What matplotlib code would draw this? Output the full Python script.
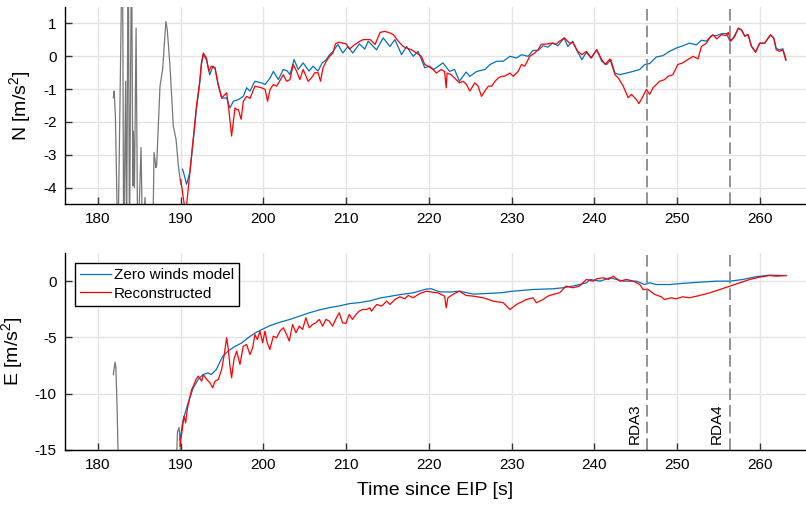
import matplotlib
matplotlib.use('Agg')
import matplotlib.pyplot as plt

plt.rcParams['font.family'] = ['Liberation Sans', 'DejaVu Sans']
plt.rcParams['mathtext.default'] = 'regular'
plt.rcParams['axes.unicode_minus'] = False

# event markers
RDA_TIMES = [246.4, 256.4]
RDA_LABELS = ['RDA3', 'RDA4']

# ---- North component ----
t_n_gray = [181.85, 181.95, 182.1, 182.4, 182.95, 183.1, 183.34, 183.45, 183.65, 183.8,
            184.05, 184.2, 184.27, 184.4, 184.6, 184.8, 185.2, 185.4, 185.68, 186.0,
            186.6, 186.77, 187.0, 187.09, 187.49, 187.81, 188.2, 188.37, 188.7, 189.1,
            189.43, 189.7, 190.0]
n_gray = [-1.26, -1.06, -1.83, -6, 4, -6, -0.76, -6, 4, -6,
          4, -3.95, -2.28, -4.0, 0.86, -6, -2.78, -6, -4.3, -6,
          -6, -2.93, -3.39, -3.3, -0.91, -0.40, 1.06, 0.81, -0.30, -2.13,
          -2.53, -3.3, -3.9]

t_n_model = [190.22, 190.45, 190.7, 191.1, 191.5, 191.9, 192.3, 192.5, 192.73, 193.1,
             193.5, 193.9, 194.14, 194.5, 194.95, 195.55, 195.95, 196.36, 196.96, 197.57,
             197.97, 198.37, 198.97, 199.77, 200.2, 200.8, 201.2, 201.8, 202.4, 202.9,
             203.2, 203.7, 204.2, 204.8, 205.5, 206.0, 206.6, 207.1, 207.6, 208.0,
             208.4, 209.0, 209.6, 210.2, 210.8, 211.6, 212.25, 212.67, 213.67, 214.48,
             215.29, 215.89, 216.7, 217.3, 218.1, 218.7, 219.5, 220.1, 220.6, 221.7,
             222.5, 223.1, 223.7, 224.5, 224.95, 225.8, 226.8, 227.4, 228.2, 229.0,
             229.8, 230.6, 231.2, 232.0, 232.6, 233.2, 233.8, 234.4, 235.0, 235.6,
             236.35, 236.8, 237.4, 237.95, 238.5, 239.05, 239.6, 240.3, 240.9, 241.5,
             242.0, 242.5, 243.1, 243.9, 244.7, 245.5, 246.1, 246.7, 247.5, 248.3,
             249.1, 249.9, 250.7, 251.5, 252.35, 252.95, 253.55, 254.15, 254.8, 255.4,
             256.0, 256.4, 256.8, 257.4, 257.8, 258.2, 258.6, 259.0, 259.5, 260.0,
             260.6, 261.3, 261.7, 262.0, 262.4, 262.8, 263.2]
n_model = [-3.44, -3.64, -3.9, -3.54, -2.6, -1.6, -0.8, -0.25, 0.05, -0.1,
           -0.56, -0.30, -0.35, -0.81, -1.27, -1.27, -1.57, -1.37, -1.32, -1.22,
           -0.96, -1.06, -0.76, -0.81, -0.86, -0.66, -0.46, -0.71, -0.40, -0.45,
           -0.56, -0.10, -0.40, -0.20, -0.45, -0.30, -0.45, -0.20, -0.10, 0.05,
           0.15, 0.36, 0.10, 0.30, 0.10, 0.38, 0.22, 0.46, 0.20, 0.56,
           0.30, 0.51, 0.05, 0.30, 0.0, 0.15, -0.35, -0.30, -0.40, -0.20,
           -0.46, -0.40, -0.76, -0.48, -0.61, -0.46, -0.40, -0.25, -0.15, -0.15,
           0.0, -0.05, 0.05, 0.0, 0.18, 0.18, 0.32, 0.28, 0.41, 0.32,
           0.56, 0.30, 0.46, 0.15, -0.10, 0.12, -0.05, 0.20, -0.15, -0.25,
           -0.10, -0.51, -0.56, -0.51, -0.46, -0.40, -0.25, -0.22, -0.02, 0.02,
           0.15, 0.25, 0.32, 0.40, 0.35, 0.49, 0.46, 0.63, 0.63, 0.69,
           0.69, 0.46, 0.56, 0.84, 0.80, 0.62, 0.66, 0.32, 0.14, 0.40,
           0.40, 0.64, 0.56, 0.24, 0.20, 0.23, -0.10]

t_n_rec = [190.0, 190.3, 190.6, 191.1, 191.5, 191.9, 192.3, 192.5, 192.73, 193.1,
           193.4, 193.7, 194.0, 194.14, 194.5, 194.95, 195.55, 195.8, 196.15, 196.56,
           196.76, 196.96, 197.3, 197.57, 197.97, 198.37, 198.97, 199.77, 200.2, 200.5,
           200.8, 201.2, 201.6, 202.4, 202.8, 203.2, 203.6, 204.0, 204.4, 204.8,
           205.4, 205.8, 206.2, 206.6, 206.9, 207.2, 207.6, 208.0, 208.4, 208.7,
           209.1, 210.0, 210.4, 211.0, 211.6, 212.06, 212.9, 213.5, 214.1, 214.7,
           215.3, 215.7, 216.3, 216.9, 217.3, 217.9, 218.5, 219.1, 219.5, 219.9,
           220.5, 220.9, 221.5, 221.9, 222.1, 222.2, 222.7, 223.3, 223.7, 224.15,
           224.55, 224.95, 225.55, 225.96, 226.36, 226.76, 227.2, 227.6, 228.0, 228.4,
           228.8, 229.2, 229.8, 230.2, 230.8, 231.2, 231.6, 232.2, 232.8, 233.2,
           233.6, 234.2, 234.8, 235.4, 235.8, 236.4, 237.0, 237.4, 238.0, 238.5,
           239.05, 239.65, 240.3, 240.9, 241.3, 241.9, 242.5, 242.9, 243.5, 244.1,
           244.5, 245.1, 245.4, 245.8, 246.3, 246.7, 247.1, 247.5, 247.9, 248.5,
           248.9, 249.5, 250.1, 250.7, 251.3, 251.95, 252.55, 252.95, 253.55, 253.95,
           254.35, 254.8, 255.4, 255.9, 256.2, 256.5, 257.0, 257.4, 257.8, 258.2,
           258.6, 259.0, 259.5, 260.0, 260.6, 261.3, 261.7, 262.0, 262.4, 262.8,
           263.15]
n_rec = [-3.75, -4.3, -4.8, -3.54, -2.53, -1.52, -0.76, -0.2, 0.10, -0.05,
         -0.45, -0.30, -0.35, -0.35, -0.85, -1.27, -1.11, -1.6, -2.43, -1.57,
         -1.62, -1.62, -1.92, -1.37, -1.22, -1.28, -0.91, -0.96, -1.01, -1.37,
         -1.01, -0.86, -0.91, -0.56, -0.76, -0.71, -0.25, -0.45, -0.71, -0.40,
         -0.76, -0.66, -0.50, -0.50, -0.76, -0.35, -0.15, 0.0, 0.10, 0.38,
         0.43, 0.38, 0.22, 0.35, 0.45, 0.51, 0.51, 0.36, 0.73, 0.76,
         0.71, 0.66, 0.46, 0.30, 0.25, 0.20, 0.10, 0.0, -0.25, -0.30,
         -0.40, -0.51, -0.40, -0.46, -0.96, -0.51, -0.56, -0.71, -0.81, -0.76,
         -0.86, -1.06, -0.81, -0.91, -1.22, -1.06, -0.91, -0.91, -0.76, -0.66,
         -0.61, -0.60, -0.51, -0.61, -0.46, -0.25, -0.30, 0.0, 0.10, 0.20,
         0.37, 0.37, 0.40, 0.37, 0.46, 0.56, 0.40, 0.42, 0.15, 0.05,
         0.15, -0.05, 0.20, -0.10, -0.25, -0.08, -0.56, -0.66, -0.91, -1.26,
         -1.16, -1.32, -1.44, -1.26, -1.01, -1.16, -0.96, -0.86, -0.76, -0.71,
         -0.61, -0.56, -0.25, -0.20, -0.10, 0.0, -0.08, 0.30, 0.40, 0.56,
         0.66, 0.53, 0.66, 0.63, 0.73, 0.46, 0.61, 0.86, 0.81, 0.61,
         0.66, 0.30, 0.12, 0.40, 0.40, 0.66, 0.56, 0.20, 0.15, 0.20,
         -0.12]

# ---- East component ----
t_e_gray = [181.85, 182.05, 182.15, 182.3, 182.5, 189.4, 189.6, 189.8, 190.0]
e_gray = [-8.3, -7.2, -7.6, -11.1, -18, -18, -13.4, -13.0, -15.5]

t_e_model = [189.9, 190.3, 190.9, 191.5, 192.1, 192.7, 193.3, 193.7, 194.3, 195.1,
             195.75, 196.55, 197.35, 198.2, 199.0, 199.8, 200.8, 202.0, 203.2, 204.4,
             205.6, 206.8, 208.0, 209.2, 210.4, 211.65, 212.9, 214.1, 215.3, 216.5,
             218.1, 219.7, 220.3, 221.3, 222.5, 223.7, 225.35, 226.95, 228.6, 230.2,
             232.6, 235.0, 236.2, 237.4, 239.05, 239.5, 240.7, 241.9, 243.5, 245.1,
             246.1, 246.7, 247.5, 249.1, 250.7, 252.75, 254.8, 256.4, 258.0, 259.6,
             261.2, 263.2]
e_model = [-14.1, -12.3, -10.8, -9.5, -8.75, -8.3, -8.15, -8.3, -7.85, -6.65,
           -6.2, -5.8, -5.5, -5.0, -4.6, -4.3, -3.95, -3.65, -3.4, -3.1,
           -2.8, -2.55, -2.35, -2.2, -2.0, -1.9, -1.75, -1.5, -1.35, -1.2,
           -1.04, -0.7, -0.68, -0.95, -0.97, -0.89, -1.15, -1.1, -1.04, -0.89,
           -0.74, -0.68, -0.59, -0.44, -0.15, 0.15, 0.0, 0.3, 0.0, 0.0,
           -0.3, -0.15, -0.3, -0.3, -0.2, -0.09, 0.0, 0.0, 0.15, 0.4,
           0.53, 0.5]

t_e_rec = [189.91, 190.23, 190.39, 190.59, 190.79, 191.04, 191.32, 191.52, 191.84, 192.12,
           192.53, 192.73, 193.13, 193.53, 193.86, 194.14, 194.54, 194.94, 195.23, 195.55,
           195.75, 195.95, 196.15, 196.43, 196.76, 197.16, 197.56, 197.96, 198.37, 198.69,
           198.97, 199.25, 199.58, 199.9, 200.18, 200.46, 200.78, 201.19, 201.59, 201.99,
           202.4, 202.8, 203.12, 203.52, 203.93, 204.33, 204.73, 205.13, 205.54, 205.94,
           206.34, 206.75, 207.15, 207.55, 207.95, 208.36, 208.76, 209.16, 209.57, 209.97,
           210.37, 210.77, 211.18, 211.58, 211.98, 212.47, 212.87, 213.05, 213.7, 214.3,
           214.9, 215.3, 215.9, 216.5, 217.1, 217.5, 218.1, 218.9, 219.7, 220.3,
           221.1, 221.9, 222.1, 222.3, 222.9, 223.7, 224.5, 225.35, 226.6, 227.8,
           229.0, 229.8, 230.6, 231.8, 232.6, 233.0, 233.8, 234.4, 235.0, 235.8,
           236.6, 237.4, 238.2, 239.05, 239.85, 240.3, 241.1, 241.7, 242.3, 243.1,
           243.9, 244.7, 245.5, 245.9, 246.5, 247.3, 248.1, 248.5, 249.3, 249.9,
           250.7, 251.5, 252.75, 253.95, 255.2, 256.4, 257.6, 258.8, 260.0, 261.2,
           262.0, 263.2]
e_rec = [-14.67, -12.9, -12.0, -12.6, -11.4, -10.5, -9.63, -9.33, -8.74, -8.44,
         -8.89, -8.3, -8.74, -9.03, -9.48, -8.89, -8.74, -7.85, -6.67, -5.03,
         -6.07, -7.55, -8.59, -6.96, -6.22, -7.4, -5.78, -5.63, -6.52, -5.93,
         -4.74, -5.18, -4.44, -5.48, -4.44, -5.48, -6.07, -4.89, -5.03, -4.44,
         -4.14, -4.74, -5.33, -3.85, -4.59, -4.0, -4.29, -3.26, -4.14, -3.85,
         -3.7, -3.4, -4.0, -3.4, -3.55, -4.0, -3.35, -2.81, -3.7, -3.76,
         -2.96, -3.4, -2.96, -2.66, -2.52, -2.52, -2.37, -2.67, -2.07, -2.22,
         -1.78, -2.07, -1.63, -1.39, -1.57, -1.27, -1.48, -1.1, -0.89, -0.97,
         -1.04, -1.33, -2.37, -1.48, -1.18, -0.89, -1.27, -1.33, -1.48, -1.78,
         -1.92, -2.52, -2.07, -1.63, -1.48, -1.92, -1.63, -1.33, -1.18, -1.04,
         -0.44, -0.59, -0.44, 0.15, 0.0, 0.21, 0.3, 0.15, 0.44, 0.0,
         0.15, 0.0, -0.3, -0.74, -0.74, -1.18, -1.39, -1.63, -1.48, -1.57,
         -1.39, -1.48, -1.27, -1.04, -0.74, -0.44, -0.15, 0.15, 0.36, 0.5,
         0.44, 0.5]

BLUE = '#0072bd'
RED = '#ff0000'
GRAY = '#777777'


def style_axes(ax, ylim, yticks):
  ax.set_xlim(176, 265.6)
  ax.set_ylim(*ylim)
  ax.set_xticks([180, 190, 200, 210, 220, 230, 240, 250, 260])
  ax.set_yticks(yticks)
  ax.grid(True, color='#e3e3e3', linewidth=1.0)
  ax.set_axisbelow(True)
  for side in ['top', 'right']:
    ax.spines[side].set_visible(False)
  for side in ['left', 'bottom']:
    ax.spines[side].set_linewidth(1.0)
  ax.tick_params(direction='in', length=5, width=1, color='#333333',
                 labelsize=11, pad=6)
  for rda in RDA_TIMES:
    ax.axvline(rda, color='#808080', linewidth=1.2, dashes=(7, 3))


fig = plt.figure(figsize=(8.06, 5.05), dpi=100)
ax1 = fig.add_axes([0.0806, 0.596, 0.9194, 0.390])
ax2 = fig.add_axes([0.0806, 0.109, 0.9194, 0.390])

# top: north
ax1.plot(t_n_gray, n_gray, color=GRAY, linewidth=0.9)
ax1.plot(t_n_model, n_model, color=BLUE, linewidth=0.9)
ax1.plot(t_n_rec, n_rec, color=RED, linewidth=0.9)
style_axes(ax1, (-4.5, 1.5), [-4, -3, -2, -1, 0, 1])
ax1.set_ylabel('N [m/s$^2$]', fontsize=14, labelpad=7)

# bottom: east
ax2.plot(t_e_gray, e_gray, color=GRAY, linewidth=0.9)
ax2.plot(t_e_model, e_model, color=BLUE, linewidth=0.9, label='Zero winds model')
ax2.plot(t_e_rec, e_rec, color=RED, linewidth=0.9, label='Reconstructed')
style_axes(ax2, (-15, 2.5), [-15, -10, -5, 0])
ax2.set_ylabel('E [m/s$^2$]', fontsize=14, labelpad=7)
ax2.set_xlabel('Time since EIP [s]', fontsize=14, labelpad=7)

for rda, name in zip(RDA_TIMES, RDA_LABELS):
  ax2.text(rda - 0.7, -14.5, name, rotation=90, ha='right', va='bottom',
           fontsize=11)

leg = ax2.legend(loc='upper left', bbox_to_anchor=(0.0135, 0.95), fontsize=11,
                 fancybox=False, framealpha=1, edgecolor='black',
                 handlelength=2.0, handletextpad=0.2, labelspacing=0.3,
                 borderpad=0.35, borderaxespad=0)
leg.get_frame().set_linewidth(1.0)

fig.savefig('out.png', dpi=100)
